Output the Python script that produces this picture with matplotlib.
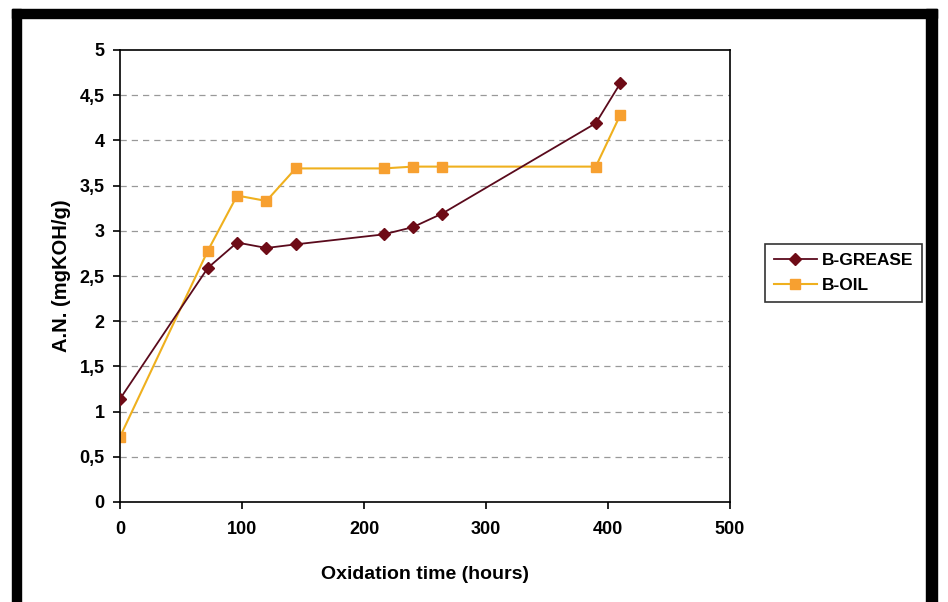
import matplotlib.pyplot as plt
from matplotlib.patches import Rectangle
from matplotlib.ticker import FuncFormatter

plt.rcParams['font.family'] = ['Liberation Sans', 'DejaVu Sans']

# data
grease_t = [0, 72, 96, 120, 144, 216, 240, 264, 390, 410]
grease_an = [1.14, 2.59, 2.87, 2.81, 2.85, 2.96, 3.04, 3.19, 4.19, 4.63]
oil_t = [0, 72, 96, 120, 144, 216, 240, 264, 390, 410]
oil_an = [0.72, 2.78, 3.39, 3.33, 3.69, 3.69, 3.71, 3.71, 3.71, 4.28]
yticks = [0, 0.5, 1, 1.5, 2, 2.5, 3, 3.5, 4, 4.5, 5]
xticks = [0, 100, 200, 300, 400, 500]

W, H = 948, 602
fig = plt.figure(figsize=(W / 100, H / 100), dpi=100)

# black frame (no bottom edge visible)
for x0, y0, w, h in [(12, 9, 9, 593), (926, 9, 11, 593), (12, 9, 925, 9)]:
    fig.patches.append(Rectangle((x0 / W, 1 - (y0 + h) / H), w / W, h / H,
                                 transform=fig.transFigure, color='black', zorder=0))

ax = fig.add_axes([120 / W, 1 - 502 / H, 610 / W, 452 / H])
ax.plot(grease_t, grease_an, color='#5a0a1c', lw=1.3, marker='D', ms=6,
        mfc='#6e0b16', mec='#6e0b16', label='B-GREASE', zorder=3)
ax.plot(oil_t, oil_an, color='#efb01e', lw=1.5, marker='s', ms=7,
        mfc='#f7a030', mec='#f7a030', label='B-OIL', zorder=2)

ax.set_xlim(0, 500)
ax.set_ylim(0, 5)
ax.set_xticks(xticks)
ax.set_yticks(yticks)
ax.yaxis.set_major_formatter(FuncFormatter(lambda v, p: ('%g' % v).replace('.', ',')))
for y in yticks[1:-1]:
    ax.axhline(y, color='#999999', lw=0.9, ls=(0, (5, 4)), zorder=1)

for s in ax.spines.values():
    s.set_linewidth(1.2)
ax.tick_params(direction='out', length=5, width=1.2, labelsize=13)
ax.tick_params(axis='x', pad=9)
ax.tick_params(axis='y', pad=6)
for lab in ax.get_xticklabels() + ax.get_yticklabels():
    lab.set_fontweight('bold')

ax.set_xlabel('Oxidation time (hours)', fontsize=14, fontweight='bold')
ax.xaxis.set_label_coords(0.5, (502 - 566) / 452)
ax.set_ylabel('A.N. (mgKOH/g)', fontsize=14.5, fontweight='bold')
ax.yaxis.set_label_coords((71 - 120) / 610, 0.5)

leg = fig.legend(loc='upper left', bbox_to_anchor=(765 / W, 1 - 244 / H), frameon=True,
                 fancybox=False, edgecolor='black', fontsize=12.5, handlelength=2.5,
                 handletextpad=0.3, borderpad=0.5, labelspacing=0.6, borderaxespad=0)
leg.get_frame().set_linewidth(1.2)
for t in leg.get_texts():
    t.set_fontweight('bold')

fig.savefig('out.png', dpi=100)
